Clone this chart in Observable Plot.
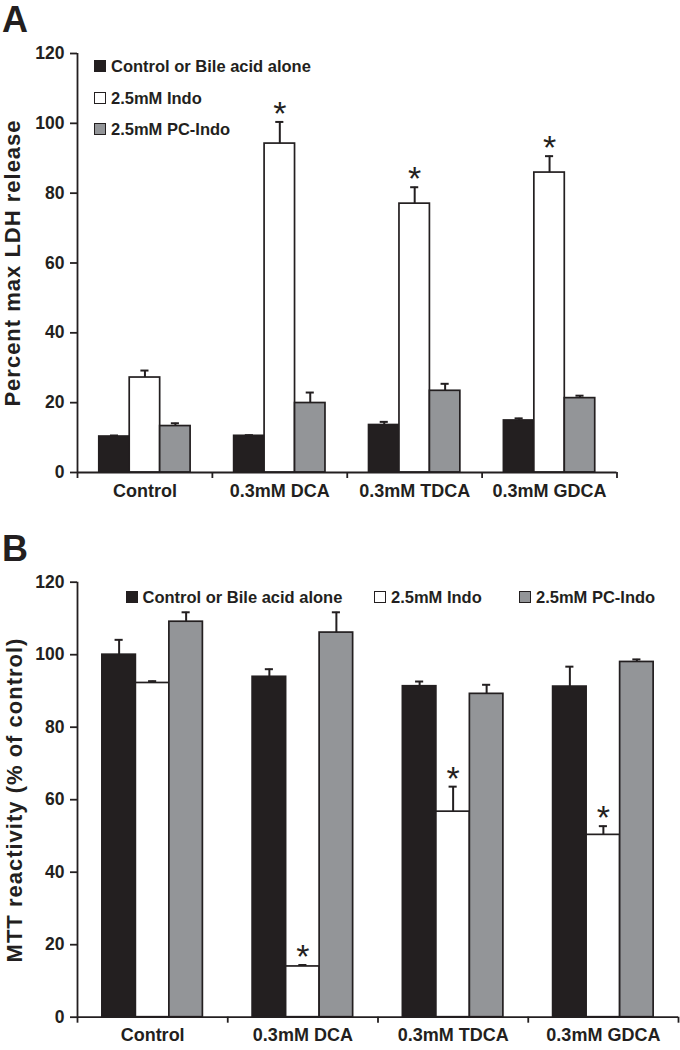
<!DOCTYPE html>
<html><head><meta charset="utf-8">
<script src="https://cdn.jsdelivr.net/npm/d3@7"></script>
<script src="https://cdn.jsdelivr.net/npm/@observablehq/plot@0.6"></script>
<style>
body{margin:0;background:#fff;}
#wrap{position:relative;width:680px;height:1050px;font-family:"Liberation Sans",Arial,sans-serif;color:#231f20;overflow:hidden;}
.panel{position:absolute;left:0;}
.letter{position:absolute;font-weight:bold;font-size:36px;line-height:36px;}
.leg{position:absolute;font-weight:bold;font-size:16.5px;display:flex;align-items:center;white-space:nowrap;height:20px;}
.sw{width:12px;height:12px;border:1.6px solid #231f20;margin-right:5px;box-sizing:border-box;}
.ylab{position:absolute;font-weight:bold;font-size:22px;letter-spacing:1px;white-space:nowrap;line-height:1;transform:translate(-50%,-50%) rotate(-90deg);}
</style></head>
<body><div id="wrap"></div>
<script>
// ---- data ----
const groups = ["Control", "0.3mM DCA", "0.3mM TDCA", "0.3mM GDCA"];
const series = ["Control or Bile acid alone", "2.5mM Indo", "2.5mM PC-Indo"];
const seriesColors = ["#231f20", "#ffffff", "#939598"];
const yTicks = [0, 20, 40, 60, 80, 100, 120];

// Panel A: Percent max LDH release
const ldhControl = [10.3, 10.5, 13.6, 14.9];
const ldhIndo = [27.2, 94.2, 77.0, 85.9];
const ldhPC = [13.3, 19.9, 23.4, 21.3];
const ldhControlErr = [0.3, 0.2, 0.9, 0.6];
const ldhIndoErr = [2.0, 6.2, 4.7, 4.7];
const ldhPCErr = [0.8, 3.0, 2.0, 0.7];
const ldhIndoSig = [false, true, true, true];

// Panel B: MTT reactivity (% of control)
const mttControl = [100.0, 93.9, 91.3, 91.2];
const mttIndo = [92.2, 14.0, 56.7, 50.3];
const mttPC = [109.1, 106.1, 89.2, 98.0];
const mttControlErr = [4.1, 2.1, 1.3, 5.5];
const mttIndoErr = [0.5, 0.4, 6.9, 2.4];
const mttPCErr = [2.6, 5.6, 2.5, 0.7];
const mttIndoSig = [false, true, true, true];

const ink = "#231f20";
const font = "'Liberation Sans', Arial, sans-serif";

function buildRows(vals, errs, sigs) {
  const rows = [];
  groups.forEach((g, gi) => {
    series.forEach((s, si) => {
      rows.push({g, gi, s, si, v: vals[si][gi], e: errs[si][gi], sig: si === 1 && sigs[gi]});
    });
  });
  return rows;
}

function panel({rows, height, marginTop, marginBottom, marginRight, barFrac, capHalf}) {
  const off = (1 - 3 * barFrac) / 2;
  const x1 = d => d.gi + off + d.si * barFrac;
  const x2 = d => d.gi + off + (d.si + 1) * barFrac;
  const cx = d => d.gi + off + (d.si + 0.5) * barFrac;
  return Plot.plot({
    width: 680, height, marginTop, marginBottom, marginLeft: 77, marginRight,
    style: {fontFamily: font, color: ink, background: "transparent", overflow: "visible"},
    x: {domain: [0, 4], axis: null},
    y: {domain: [0, 120], axis: null},
    color: {domain: series, range: seriesColors},
    marks: [
      Plot.rect(rows, {x1, x2, y1: 0, y2: "v", fill: "s", stroke: ink, strokeWidth: 1.7}),
      Plot.ruleX(rows, {x: cx, y1: "v", y2: d => d.v + d.e, stroke: ink, strokeWidth: 2}),
      Plot.ruleY(rows, {y: d => d.v + d.e, x1: d => cx(d) - capHalf, x2: d => cx(d) + capHalf, stroke: ink, strokeWidth: 2}),
      Plot.text(rows.filter(d => d.sig), {x: cx, y: d => d.v + d.e, text: () => "*", fontSize: 34, dy: -8, fill: ink}),
      Plot.ruleX([0], {stroke: ink, strokeWidth: 1.8}),
      Plot.ruleY([0], {stroke: ink, strokeWidth: 1.8}),
      Plot.axisY({ticks: yTicks, tickSize: 7, tickPadding: 6, fontSize: 17.5, fontWeight: "bold", stroke: ink, strokeWidth: 1.8, fill: ink, label: null, tickFormat: d => d}),
      Plot.axisX({ticks: [0, 1, 2, 3, 4], tickSize: 6, stroke: ink, strokeWidth: 1.8, tickFormat: () => "", label: null}),
      Plot.text(groups, {x: (d, i) => i + 0.5, y: 0, dy: 18.5, fontSize: 18, fontWeight: "bold", fill: ink})
    ]
  });
}

const wrap = document.getElementById("wrap");

function addDiv(cls, style, html) {
  const d = document.createElement("div");
  d.className = cls;
  Object.assign(d.style, style);
  if (html !== undefined) d.textContent = html;
  wrap.appendChild(d);
  return d;
}

// Panel A
const rowsA = buildRows([ldhControl, ldhIndo, ldhPC], [ldhControlErr, ldhIndoErr, ldhPCErr], ldhIndoSig);
const pA = addDiv("panel", {top: "0px"});
pA.appendChild(panel({rows: rowsA, height: 510, marginTop: 53, marginBottom: 38, marginRight: 63.5, barFrac: 0.2257, capHalf: 0.03}));

// Panel B
const rowsB = buildRows([mttControl, mttIndo, mttPC], [mttControlErr, mttIndoErr, mttPCErr], mttIndoSig);
const pB = addDiv("panel", {top: "510px"});
pB.appendChild(panel({rows: rowsB, height: 540, marginTop: 71.7, marginBottom: 33.3, marginRight: 2, barFrac: 0.223, capHalf: 0.027}));

// Axis titles
addDiv("ylab", {left: "13px", top: "263px"}, "Percent max LDH release");
addDiv("ylab", {left: "15px", top: "800px"}, "MTT reactivity (% of control)");

// Panel letters
addDiv("letter", {left: "2px", top: "2px"}, "A");
addDiv("letter", {left: "2px", top: "531px"}, "B");

// Legends
function legendItem(i, left, centerY) {
  const d = addDiv("leg", {left: left + "px", top: (centerY - 10) + "px"});
  const sw = document.createElement("span");
  sw.className = "sw";
  sw.style.background = seriesColors[i];
  d.appendChild(sw);
  const t = document.createElement("span");
  t.textContent = series[i];
  d.appendChild(t);
}
legendItem(0, 94, 66);
legendItem(1, 94, 98);
legendItem(2, 94, 129);
legendItem(0, 125.5, 597);
legendItem(1, 374, 597);
legendItem(2, 519, 597);
</script>
</body></html>
